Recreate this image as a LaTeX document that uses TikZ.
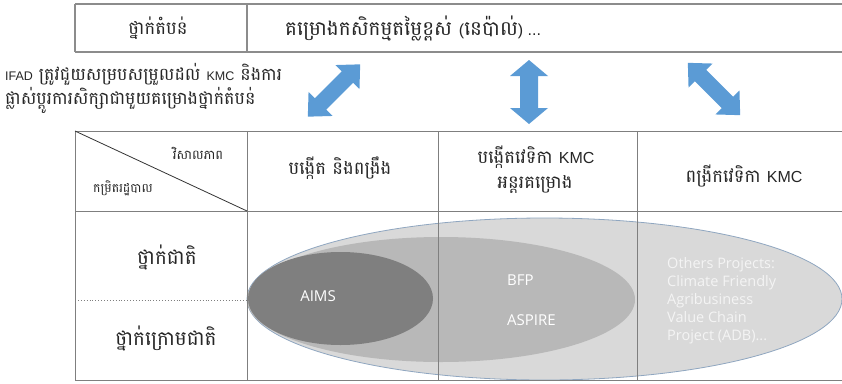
\documentclass[tikz,border=0pt]{standalone}
\usepackage{fontspec}
\setmainfont{Liberation Sans}
\newfontfamily\kmfont[Script=Khmer]{Battambang}
\newfontfamily\opfont{Open Sans}
\definecolor{arrowblue}{HTML}{5B9BD5}
\definecolor{gridgray}{HTML}{7F7F7F}
\definecolor{outerfill}{HTML}{D9D9D9}
\definecolor{midfill}{HTML}{B8B8B8}
\definecolor{innerfill}{HTML}{7F7F7F}
\definecolor{outerline}{HTML}{8FA6C0}
\definecolor{softwhite}{HTML}{F4F4F4}
\newcommand{\latin}[1]{{\rmfamily\fontsize{16}{18}\selectfont #1}}
\newcommand{\latsmall}[1]{{\rmfamily\fontsize{12.5}{14}\selectfont #1}}
\tikzset{
  gridline/.style={draw=gridgray, line width=0.9pt},
  topline/.style={draw=gray!90, line width=1.3pt},
  kmbig/.style={font=\kmfont\fontsize{20}{22}\selectfont, inner sep=0pt, text=black!85},
  kmhead/.style={font=\kmfont\fontsize{18}{20}\selectfont, inner sep=0pt, text=black!85},
  kmsmall/.style={font=\kmfont\fontsize{13}{15}\selectfont, inner sep=0pt, text=black!85},
  sidetext/.style={font=\kmfont\fontsize{17.5}{20}\selectfont, inner sep=0pt, text=black!85},
  elltext/.style={font=\opfont\fontsize{15}{17}\selectfont, inner sep=0pt, text=white},
  othertext/.style={font=\opfont\fontsize{14.5}{18}\selectfont, inner sep=0pt, text=softwhite, align=left},
}
\begin{document}
\begin{tikzpicture}[x=1pt,y=-1pt]
\useasboundingbox (0,0) rectangle (842,383);
% ---------- top table ----------
\draw[topline] (75,4) -- (842,4);
\draw[topline] (75,52) -- (842,52);
\draw[topline] (75,4) -- (75,52);
\draw[topline] (247,4) -- (247,52);
\node[kmbig, font=\kmfont\fontsize{18}{20}\selectfont] (region) at (158,28) {ថ្នាក់តំបន់};
\node[kmbig, anchor=west] (nepal) at (285,28) {គម្រោងកសិកម្មតម្លៃខ្ពស់ \latin{(}នេប៉ាល់\latin{) ...}};
% ---------- side text ----------
\node[sidetext, anchor=west] (ifad1) at (5,74) {\latsmall{IFAD} ត្រូវជួយសម្របសម្រួលដល់ \latsmall{KMC} និងការ};
\node[sidetext, anchor=west] (ifad2) at (5,100) {ផ្លាស់ប្តូរការសិក្សាជាមួយគម្រោងថ្នាក់តំបន់};
% ---------- arrows ----------
\begin{scope}[shift={(334,90.5)}, rotate=45]
  \fill[arrowblue] (-37,0) -- (-19,17) -- (-19,8) -- (19,8) -- (19,17) -- (37,0) -- (19,-17) -- (19,-8) -- (-19,-8) -- (-19,-17) -- cycle;
\end{scope}
\begin{scope}[shift={(529,92)}, rotate=90]
  \fill[arrowblue] (-32,0) -- (-16,19) -- (-16,9) -- (16,9) -- (16,19) -- (32,0) -- (16,-19) -- (16,-9) -- (-16,-9) -- (-16,-19) -- cycle;
\end{scope}
\begin{scope}[shift={(714,89)}, rotate=-45]
  \fill[arrowblue] (-37,0) -- (-19,17) -- (-19,8) -- (19,8) -- (19,17) -- (37,0) -- (19,-17) -- (19,-8) -- (-19,-8) -- (-19,-17) -- cycle;
\end{scope}
% ---------- ellipses ----------
\fill[outerfill, draw=outerline, line width=0.8pt] (544.5,299) ellipse [x radius=297.5, y radius=81];
\fill[midfill] (441,299.5) ellipse [x radius=194, y radius=62.5];
\fill[innerfill] (340.5,298.5) ellipse [x radius=92.5, y radius=46.5];
% ---------- main table ----------
\draw[gridline] (75,131) -- (842,131);
\draw[gridline] (75,211) -- (842,211);
\draw[gridline] (75,380) -- (842,380);
\draw[gridline] (75,131) -- (75,380);
\draw[gridline] (247,131) -- (247,380);
\draw[gridline] (438,131) -- (438,380);
\draw[gridline] (637,131) -- (637,380);
\draw[draw=black!80, line width=0.8pt] (75,131) -- (247,211);
\draw[draw=gridgray, line width=0.9pt, dotted] (75,300) -- (247,300);
% ---------- header texts ----------
\node[kmsmall] (scope) at (198,153) {វិសាលភាព};
\node[kmsmall, font=\kmfont\fontsize{12.5}{14}\selectfont] (level) at (123,188) {កម្រិតរដ្ឋបាល};
\node[kmhead] (create) at (340,168) {បង្កើត និងពង្រឹង};
\node[kmhead] (inter1) at (536,157) {បង្កើតវេទិកា \latin{KMC}};
\node[kmhead] (inter2) at (535,184) {អន្តរគម្រោង};
\node[kmhead] (expand) at (744,176) {ពង្រីកវេទិកា \latin{KMC}};
\node[kmbig] (national) at (167,257) {ថ្នាក់ជាតិ};
\node[kmbig] (subnat) at (166,338) {ថ្នាក់ក្រោមជាតិ};
% ---------- ellipse texts ----------
\node[elltext] (aims) at (318,296) {AIMS};
\node[elltext, anchor=west] (bfp) at (507,280) {BFP};
\node[elltext, anchor=west] (aspire) at (507,320) {ASPIRE};
\node[othertext, anchor=north west] (others) at (667,257) {Others Projects:\\Climate Friendly\\Agribusiness\\Value Chain\\Project (ADB)...};
\end{tikzpicture}
\end{document}
